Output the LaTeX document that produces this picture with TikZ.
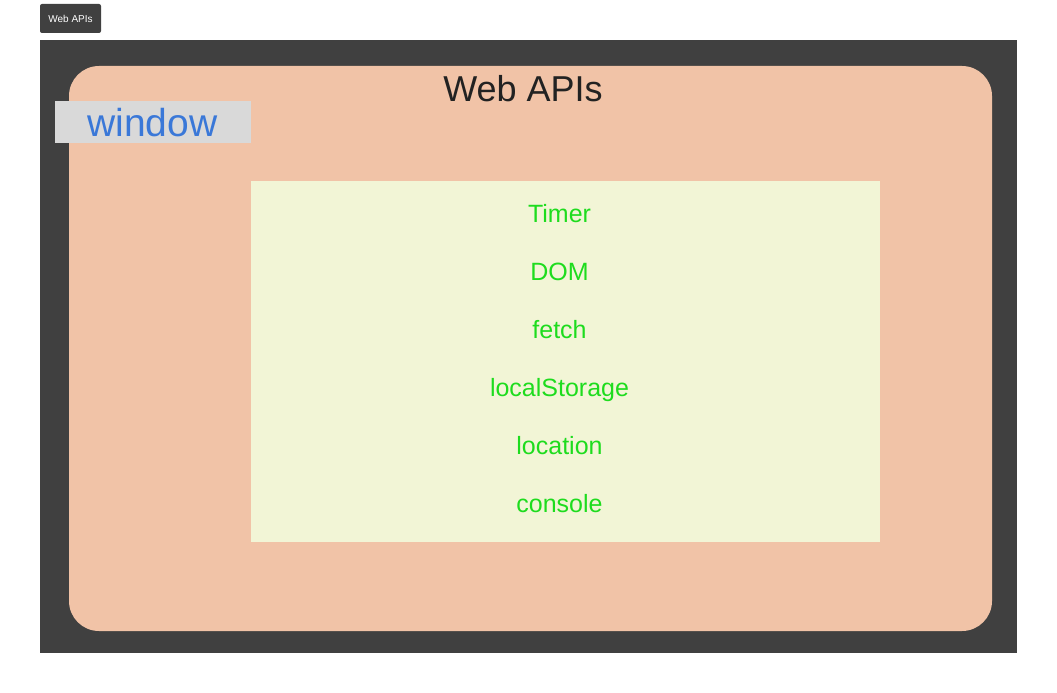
\documentclass[tikz,border=0pt]{standalone}
\usepackage{fontspec}
\setmainfont{Liberation Sans}
\definecolor{darkbg}{HTML}{404040}
\definecolor{salmon}{HTML}{F1C3A7}
\definecolor{cream}{HTML}{F2F5D6}
\definecolor{itemgreen}{HTML}{1EDC1E}
\definecolor{winblue}{HTML}{3A78D8}
\definecolor{wingray}{HTML}{D9D9D9}
\definecolor{titlegray}{HTML}{222222}
\begin{document}
\begin{tikzpicture}[x=1pt,y=-1pt,
  item/.style={text=itemgreen,font=\fontsize{25}{28}\selectfont,anchor=base,inner sep=0pt}]
\useasboundingbox (0,0) rectangle (1057,693);
\fill[white] (0,0) rectangle (1057,693);
% tab
\node[fill=darkbg,rounded corners=2pt,minimum width=61pt,minimum height=29pt,inner sep=0pt,
  text=white,font=\fontsize{10}{12}\selectfont] (tab) at (70.5,18.5) {Web APIs};
% dark frame
\node[fill=darkbg,minimum width=977pt,minimum height=613pt,inner sep=0pt] (frame) at (528.5,346.5) {};
% salmon box
\node[fill=salmon,rounded corners=30pt,minimum width=923pt,minimum height=565pt,inner sep=0pt] (web) at (530.5,348.5) {};
\node[text=titlegray,font=\fontsize{36}{40}\selectfont,inner sep=0pt,anchor=base] (title) at (523,101) {Web APIs};
% window label
\node[fill=wingray,minimum width=196pt,minimum height=42pt,inner sep=0pt] (winbox) at (153,122) {};
\node[text=winblue,font=\fontsize{39}{42}\selectfont,inner sep=0pt,anchor=base] (win) at (152.5,136) {window};
% cream box
\node[fill=cream,minimum width=629pt,minimum height=361pt,inner sep=0pt] (apis) at (565.5,361.5) {};
\node[item] (i1) at (559.5,222) {Timer};
\node[item] (i2) at (559.5,280) {DOM};
\node[item] (i3) at (559.5,338) {fetch};
\node[item] (i4) at (559.5,396) {localStorage};
\node[item] (i5) at (559.5,454) {location};
\node[item] (i6) at (559.5,512) {console};
\end{tikzpicture}
\end{document}
